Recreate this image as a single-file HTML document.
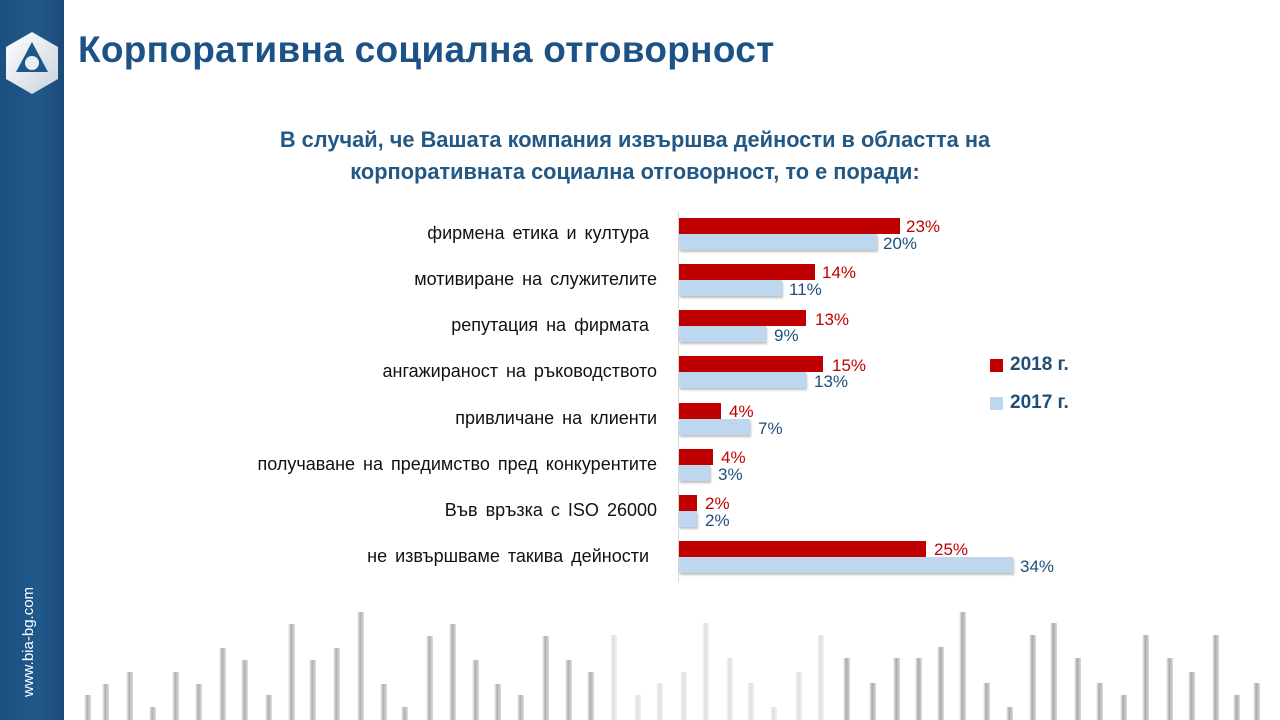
<!DOCTYPE html>
<html><head><meta charset="utf-8"><style>
body{margin:0;width:1280px;height:720px;position:relative;overflow:hidden;background:#fff;font-family:"Liberation Sans","DejaVu Sans",sans-serif}
.abs{position:absolute}
.side{left:0;top:0;width:64px;height:720px;background:linear-gradient(to right,#1b4f7e,#21598b 60%,#1a4a78)}
.title{left:78px;top:29px;font-size:37px;font-weight:bold;color:#1c5286;letter-spacing:0.3px;white-space:nowrap}
.sub{left:200px;width:870px;text-align:center;font-size:21.8px;font-weight:bold;color:#215886;white-space:nowrap}
.lab{right:623px;font-size:18px;color:#111;white-space:pre;word-spacing:3px}
.r{background:#c00000;height:16px;left:679px}
.b{background:#bdd7ee;height:16px;left:679px;box-shadow:1px 2px 2px rgba(0,0,0,.25)}
.vr{font-size:17px;color:#c00000}
.vb{font-size:17px;color:#1f4e79}
.dec{width:7px;bottom:0;background:linear-gradient(to right,rgba(255,255,255,0),rgba(150,150,150,.9) 45%,rgba(190,190,190,.6))}
.leg{font-size:19px;font-weight:bold;color:#1f4e79}
</style></head><body>
<div class="abs side"></div>
<svg class="abs" style="left:4px;top:30px" width="56" height="66" viewBox="0 0 56 66">
<defs><linearGradient id="g" x1="0" y1="0" x2="1" y2="1"><stop offset="0" stop-color="#fff"/><stop offset="1" stop-color="#c9d3dc"/></linearGradient></defs>
<polygon points="28,2 54,17 54,49 28,64 2,49 2,17" fill="url(#g)"/>
<polygon points="28,12 44,42 12,42" fill="#1f568a"/>
<circle cx="28" cy="33" r="7" fill="#e8edf2"/>
</svg>
<div class="abs" style="left:20px;top:697px;transform:rotate(-90deg);transform-origin:0 0;color:#fff;font-size:15px;white-space:nowrap">www.bia-bg.com</div>
<div class="abs title">Корпоративна социална отговорност</div>
<div class="abs sub" style="top:127px">В случай, че Вашата компания извършва дейности в областта на</div>
<div class="abs sub" style="top:159px">корпоративната социална отговорност, то е поради:</div>
<div class="abs" style="left:678px;top:212px;width:1px;height:370px;background:#d9d9d9"></div>

<div class="abs lab" style="top:223px">фирмена етика и култура </div>
<div class="abs lab" style="top:269px">мотивиране на служителите</div>
<div class="abs lab" style="top:315px">репутация на фирмата </div>
<div class="abs lab" style="top:361px">ангажираност на ръководството</div>
<div class="abs lab" style="top:408px">привличане на клиенти</div>
<div class="abs lab" style="top:454px">получаване на предимство пред конкурентите</div>
<div class="abs lab" style="top:500px">Във връзка с ISO 26000</div>
<div class="abs lab" style="top:546px">не извършваме такива дейности </div>

<div class="abs r" style="top:218px;width:221px"></div><div class="abs b" style="top:234px;width:198px"></div>
<div class="abs vr" style="left:906px;top:217px">23%</div><div class="abs vb" style="left:883px;top:234px">20%</div>
<div class="abs r" style="top:264px;width:136px"></div><div class="abs b" style="top:280px;width:103px"></div>
<div class="abs vr" style="left:822px;top:263px">14%</div><div class="abs vb" style="left:789px;top:280px">11%</div>
<div class="abs r" style="top:310px;width:127px"></div><div class="abs b" style="top:326px;width:87px"></div>
<div class="abs vr" style="left:815px;top:310px">13%</div><div class="abs vb" style="left:774px;top:326px">9%</div>
<div class="abs r" style="top:356px;width:144px"></div><div class="abs b" style="top:372px;width:127px"></div>
<div class="abs vr" style="left:832px;top:356px">15%</div><div class="abs vb" style="left:814px;top:372px">13%</div>
<div class="abs r" style="top:403px;width:42px"></div><div class="abs b" style="top:419px;width:71px"></div>
<div class="abs vr" style="left:729px;top:402px">4%</div><div class="abs vb" style="left:758px;top:419px">7%</div>
<div class="abs r" style="top:449px;width:34px"></div><div class="abs b" style="top:465px;width:31px"></div>
<div class="abs vr" style="left:721px;top:448px">4%</div><div class="abs vb" style="left:718px;top:465px">3%</div>
<div class="abs r" style="top:495px;width:18px"></div><div class="abs b" style="top:511px;width:18px"></div>
<div class="abs vr" style="left:705px;top:494px">2%</div><div class="abs vb" style="left:705px;top:511px">2%</div>
<div class="abs r" style="top:541px;width:247px"></div><div class="abs b" style="top:557px;width:334px"></div>
<div class="abs vr" style="left:934px;top:540px">25%</div><div class="abs vb" style="left:1020px;top:557px">34%</div>

<div class="abs" style="left:990px;top:359px;width:13px;height:13px;background:#c00000"></div>
<div class="abs leg" style="left:1010px;top:354px">2018 г.</div>
<div class="abs" style="left:990px;top:397px;width:13px;height:13px;background:#bdd7ee"></div>
<div class="abs leg" style="left:1010px;top:392px">2017 г.</div>

<div id="dec"></div>
<script>
var L=[[87,695],[105,684],[129,672],[152,707],[175,672],[198,684],[222,648],[244,660],[268,695],[291,624],[312,660],[336,648],[360,612],[383,684],[404,707],[429,636],[452,624],[475,660],[497,684],[520,695],[545,636],[568,660],[590,672],[613,635],[637,695],[659,683],[683,672],[705,623],[729,658],[750,683],[773,707],[798,672],[820,635],[846,658],[872,683],[896,658],[918,658],[940,647],[962,612],[986,683],[1009,707],[1032,635],[1053,623],[1077,658],[1099,683],[1123,695],[1145,635],[1169,658],[1191,672],[1215,635],[1236,695],[1256,683]];
var h='';L.forEach(function(p){var x=p[0],op=(x>600&&x<830)?0.35:(x<600?0.85:0.9);h+='<div class="abs dec" style="left:'+(x-3)+'px;top:'+p[1]+'px;opacity:'+op+'"></div>';});
document.getElementById('dec').innerHTML=h;
</script>
</body></html>
